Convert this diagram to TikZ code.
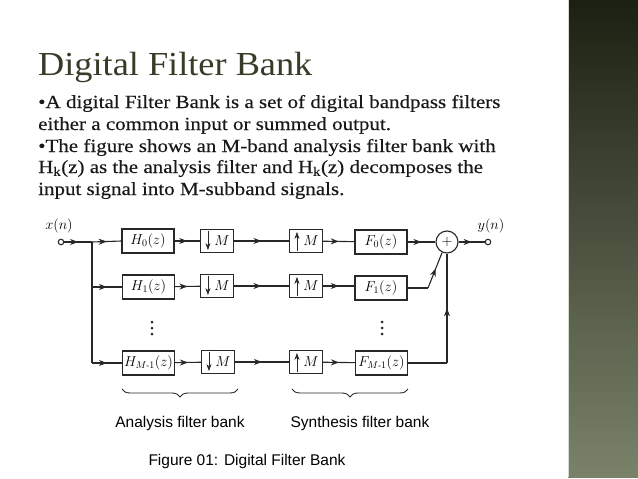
\RequirePackage{fix-cm}
\documentclass[tikz,border=0pt]{standalone}
\usepackage{fontspec}
\setmainfont{Liberation Serif}
\newfontfamily\slidefont[FakeStretch=1.08]{Liberation Serif}
\newfontfamily\bodyfont[FakeStretch=1.135,FakeBold=0.25]{Liberation Serif}
\newfontfamily\capfont{Liberation Sans}
\usetikzlibrary{arrows.meta,decorations.markings,decorations.pathreplacing}
\definecolor{titlec}{RGB}{58,58,40}
\definecolor{bodyc}{RGB}{25,25,25}
\definecolor{linec}{RGB}{40,40,40}
\definecolor{bartop}{RGB}{28,32,18}
\definecolor{barbot}{RGB}{122,130,106}
\begin{document}
\begin{tikzpicture}[x=1pt,y=-1pt,
  wire/.style={line width=1.1pt, draw=linec},
  midarr/.style={wire, postaction={decorate}, decoration={markings, mark=at position #1 with {\arrow{Stealth[length=8pt,width=6pt,inset=2.5pt]}}}},
  midarr/.default=0.5,
  blk/.style={draw=linec, line width=1.1pt, minimum width=52pt, minimum height=24pt, inner sep=0pt, font=\fontsize{14.4}{17}\selectfont},
  mbox/.style={blk, minimum width=33pt, minimum height=23pt},
  port/.style={circle, draw=linec, line width=1.1pt, fill=white, minimum size=5.5pt, inner sep=0pt},
  dotc/.style={circle, fill=linec, minimum size=3pt, inner sep=0pt},
  sumc/.style={circle, draw=linec, line width=1.1pt, minimum size=22pt, inner sep=0pt, font=\fontsize{14.4}{17}\selectfont},
  lbl/.style={inner sep=0pt, font=\fontsize{14.4}{17}\selectfont},
  bodytext/.style={anchor=base west, inner sep=0pt, text=bodyc, font=\bodyfont\fontsize{18.5}{22}\selectfont},
  captext/.style={inner sep=0pt, text=black, font=\capfont\fontsize{15.5}{18}\selectfont},
  bracestyle/.style={draw=linec, line width=0.9pt, decorate, decoration={brace, amplitude=8pt, mirror}},
  ratearr/.style={-{Stealth[length=7pt,width=5pt]}, line width=0.6pt, draw=linec}
]
\useasboundingbox (0,0) rectangle (638,479);
\fill[white] (0,0) rectangle (638,479);
% sidebar
\shade[top color=bartop, bottom color=barbot] (568,0) rectangle (638,477);
\draw[white!70!barbot, line width=0.6pt] (568.3,0) -- (568.3,477);

% title and body
\node[anchor=base west, inner sep=0pt, text=titlec, font=\slidefont\fontsize{33.6}{36}\selectfont] (title) at (38,75) {Digital Filter Bank};
\node[bodytext] (l1) at (38,108) {•A digital Filter Bank is a set of digital bandpass filters};
\node[bodytext] (l2) at (38,130) {either a common input or summed output.};
\node[bodytext] (l3) at (38,152) {•The figure shows an M-band analysis filter bank with};
\node[bodytext] (l4) at (38,173) {H\textsubscript{k}(z) as the analysis filter and H\textsubscript{k}(z) decomposes the};
\node[bodytext] (l5) at (38,195) {input signal into M-subband signals.};

% diagram nodes
\node[port] (xin) at (61,242) {};
\node[lbl] (xl) at (59,226) {$x(n)$};
\coordinate (br) at (92,242);
\coordinate (b1) at (92,287);
\coordinate (b2) at (92,363);

\node[blk] (H0) at (148,241) {$H_0(z)$};
\node[blk] (H1) at (148.5,287) {$H_1(z)$};
\node[blk] (H2) at (148.5,363) {$H_{M\mbox{\fontsize{8.5}{9}\selectfont -}1}(z)$};

\node[mbox] (D0) at (217,241) {\hspace{10pt}$M$};
\node[mbox] (D1) at (217,286) {\hspace{10pt}$M$};
\node[mbox] (D2) at (218,362) {\hspace{10pt}$M$};

\node[mbox] (U0) at (306,241) {\hspace{10pt}$M$};
\node[mbox] (U1) at (306,286) {\hspace{10pt}$M$};
\node[mbox] (U2) at (306,362) {\hspace{10pt}$M$};

\node[blk] (F0) at (381,242) {$F_0(z)$};
\node[blk] (F1) at (381,288) {$F_1(z)$};
\node[blk] (F2) at (381.5,363) {$F_{M\mbox{\fontsize{8.5}{9}\selectfont -}1}(z)$};

\node[sumc] (sum) at (447,242) {$+$};
\node[port] (yout) at (488,242) {};
\node[lbl] (yl) at (491,226) {$y(n)$};

\coordinate (k1) at (428,288);
\coordinate (k2) at (447,363);

% inner arrows of rate changers
\foreach \n in {D0,D1,D2}{
  \draw[ratearr] ([xshift=8pt,yshift=-2pt]\n.north west) -- ([xshift=8pt,yshift=3pt]\n.south west);
}
\foreach \n in {U0,U1,U2}{
  \draw[ratearr] ([xshift=8pt,yshift=2pt]\n.south west) -- ([xshift=8pt,yshift=-3pt]\n.north west);
}

% connectors
\draw[midarr] (xin) -- (br);
\draw[wire] (br) -- (b2);
\draw[midarr] (br) -- (H0.west);
\draw[midarr] (b1) -- (H1.west);
\draw[midarr] (b2) -- (H2.west);
\draw[midarr] (H0) -- (D0);
\draw[midarr] (H1) -- (D1);
\draw[midarr] (H2) -- (D2);
\draw[midarr] (D0) -- (U0);
\draw[midarr] (D1) -- (U1);
\draw[midarr] (D2) -- (U2);
\draw[midarr] (U0) -- (F0);
\draw[midarr] (U1.east) -- (F1.west |- U1.east);
\draw[midarr] (U2) -- (F2);
\draw[midarr] (F0) -- (sum);
\draw[wire] (F1.east) -- (k1);
\draw[midarr=0.55] (k1) -- (sum.245);
\draw[wire] (F2.east) -- (k2);
\draw[midarr] (k2) -- (sum.south);
\draw[midarr] (sum) -- (yout);

% dots
\foreach \yy in {322,328,334}{
  \node[dotc] at (152,\yy) {};
  \node[dotc] at (382,\yy) {};
}

% braces and captions
\draw[bracestyle] (122,389) -- (238,389);
\draw[bracestyle] (292,389) -- (408,389);
\node[captext] (ana) at (180,423) {Analysis filter bank};
\node[captext] (syn) at (360,423) {Synthesis filter bank};
\node[captext] (fig) at (247,461) {Figure 01: Digital Filter Bank};
\end{tikzpicture}
\end{document}
